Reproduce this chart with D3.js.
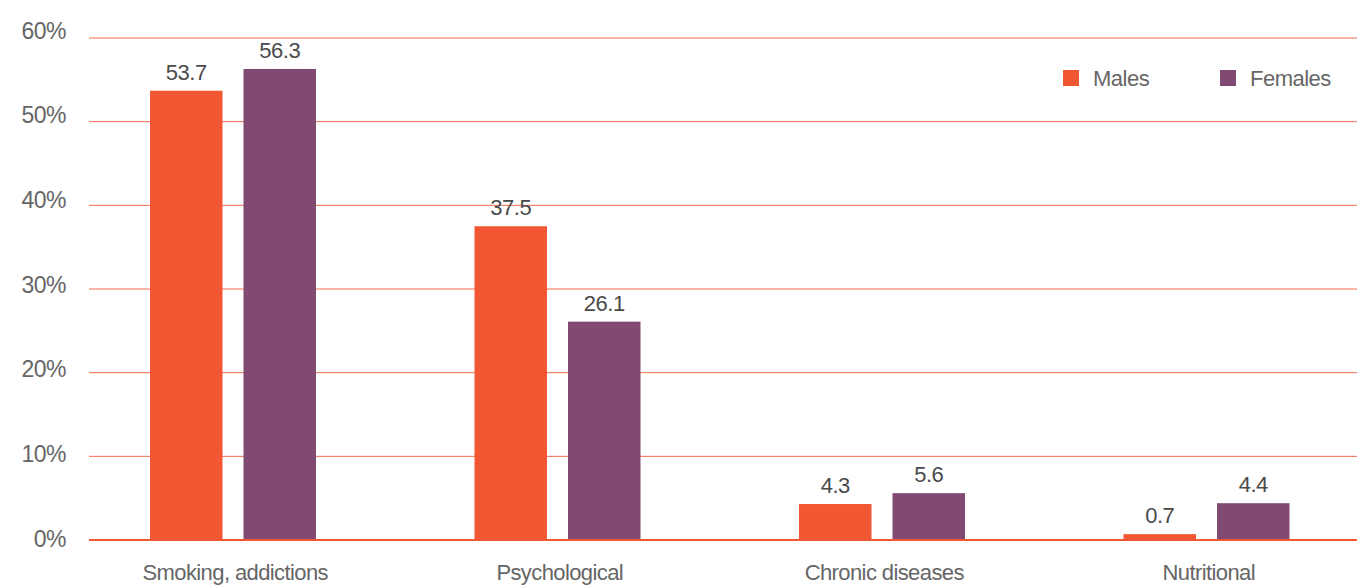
<!DOCTYPE html>
<html>
<head>
<meta charset="utf-8">
<script src="https://cdn.jsdelivr.net/npm/d3@7"></script>
<style>
  html, body { margin: 0; padding: 0; background: #fff; }
  svg { display: block; font-family: "Liberation Sans", Arial, sans-serif; }
</style>
</head>
<body>
<svg id="chart" width="1357" height="587"></svg>
<script>
// Reasons by category, percent of respondents
const categories = ["Smoking, addictions", "Psychological", "Chronic diseases", "Nutritional"];
const series = ["Males", "Females"];
const males = [53.7, 37.5, 4.3, 0.7];
const females = [56.3, 26.1, 5.6, 4.4];
const yTicks = [0, 10, 20, 30, 40, 50, 60];

const colors = { Males: "#F05732", Females: "#804A73" };
const values = { Males: males, Females: females };

const svg = d3.select("#chart");
const W = 1357;

const x0 = d3.scaleBand().domain(categories).range([71, 1369]).padding(0);
const x1 = d3.scaleBand().domain(series).range([79, 245]).paddingInner(0.2246).paddingOuter(0);
const y = d3.scaleLinear().domain([0, 60]).range([540, 38]);
// tick labels sit on a slightly wider spacing than the grid
const yLabel = d3.scaleLinear().domain([0, 60]).range([538.5, 30.5]);

// gridlines
svg.append("g").selectAll("line")
  .data(yTicks.filter(t => t > 0))
  .join("line")
  .attr("x1", 89).attr("x2", W)
  .attr("y1", d => y(d)).attr("y2", d => y(d))
  .attr("stroke", "#F26A4C").attr("stroke-width", 1);

// y tick labels
svg.append("g").selectAll("text")
  .data(yTicks)
  .join("text")
  .attr("x", 66)
  .attr("y", d => yLabel(d))
  .attr("dy", "0.35em")
  .attr("text-anchor", "end")
  .attr("fill", "#666")
  .attr("font-size", 23)
  .attr("letter-spacing", -0.5)
  .text(d => d + "%");

// bars
const groups = svg.append("g").selectAll("g")
  .data(categories)
  .join("g")
  .attr("transform", d => `translate(${x0(d)},0)`);

groups.selectAll("rect")
  .data((c, i) => series.map(s => ({ s, v: values[s][i] })))
  .join("rect")
  .attr("x", d => x1(d.s))
  .attr("width", x1.bandwidth())
  .attr("y", d => y(d.v))
  .attr("height", d => y(0) - y(d.v))
  .attr("fill", d => colors[d.s]);

groups.selectAll("text.val")
  .data((c, i) => series.map(s => ({ s, v: values[s][i] })))
  .join("text")
  .attr("class", "val")
  .attr("x", d => x1(d.s) + x1.bandwidth() / 2)
  .attr("y", d => y(d.v) - 11)
  .attr("text-anchor", "middle")
  .attr("fill", "#4a4a4a")
  .attr("font-size", 22)
  .attr("letter-spacing", -0.5)
  .text(d => d.v.toFixed(1));

// baseline
svg.append("line")
  .attr("x1", 89).attr("x2", W)
  .attr("y1", y(0)).attr("y2", y(0))
  .attr("stroke", "#F05732").attr("stroke-width", 2);

// category labels along the bottom edge
svg.append("g").selectAll("text")
  .data(categories)
  .join("text")
  .attr("x", d => x0(d) + x0.bandwidth() / 2 + 2)
  .attr("y", 580)
  .attr("text-anchor", "middle")
  .attr("fill", "#666")
  .attr("font-size", 22)
  .attr("letter-spacing", -0.6)
  .text(d => d);

// legend
const legend = svg.append("g").selectAll("g")
  .data(series)
  .join("g")
  .attr("transform", (d, i) => `translate(${1063 + i * 157},70)`);
legend.append("rect")
  .attr("width", 16).attr("height", 16)
  .attr("fill", d => colors[d]);
legend.append("text")
  .attr("x", 30).attr("y", 16)
  .attr("fill", "#666")
  .attr("font-size", 22)
  .attr("letter-spacing", -0.5)
  .text(d => d);
</script>
</body>
</html>
